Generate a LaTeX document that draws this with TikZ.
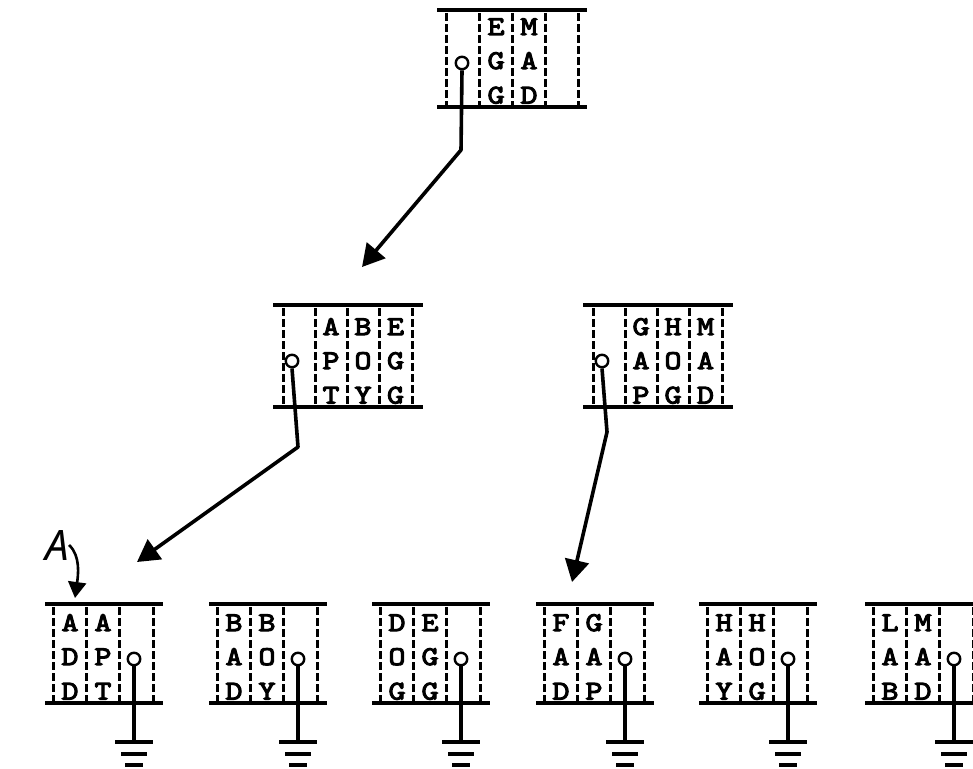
\documentclass[tikz,border=0pt]{standalone}
\usepackage{fontspec}
\newfontfamily\typew{lmmono10-regular.otf}[FakeBold=4,FakeStretch=1.2]
\newfontfamily\handf{Noto Sans}
\usetikzlibrary{arrows.meta}

\tikzset{
  rule/.style={line width=3.2pt},
  sepline/.style={line width=3pt, dash pattern=on 8pt off 3pt},
  ptr/.style={circle, draw, line width=2.4pt, inner sep=0pt, minimum size=12.5pt, fill=white},
  stem/.style={line width=3.2pt},
  link/.style={line width=3.6pt, line join=round, -{Triangle[length=22pt,width=24pt]}},
  tag/.style={line width=2.6pt, -{Triangle[length=16pt,width=18pt]}},
  key/.style={font=\typew\fontsize{27}{27}\selectfont, inner sep=0pt, anchor=base},
  hand/.style={font=\handf\itshape\fontsize{42}{42}\selectfont, inner sep=0pt},
}

% horizontal rules of a block: left x, right x, top y, bottom y
\newcommand\blockrules[4]{%
  \draw[rule] (#1,#3) -- (#2,#3);
  \draw[rule] (#1,#4) -- (#2,#4);}
% dashed separator: x, top y, bottom y
\newcommand\sep[3]{\draw[sepline] (#1,#2+3) -- (#1,#3);}
% column of three keys: name, x, bottom y, three letters
\newcommand\keycol[6]{%
  \node[key] (#1-1) at (#2,#3-72) {#4};
  \node[key] (#1-2) at (#2,#3-38) {#5};
  \node[key] (#1-3) at (#2,#3-3.5) {#6};}
% ground symbol under a stem: x
\newcommand\ground[1]{%
  \draw[rule] (#1-19,742) -- (#1+19,742);
  \draw[rule] (#1-13,754) -- (#1+13,754);
  \draw[rule] (#1-9,765) -- (#1+9,765);}
% leaf block: name, first separator x, six letters
\newcommand\leaf[8]{%
  \blockrules{#2-8}{#2+110}{604}{703}
  \sep{#2}{604}{703}\sep{#2+33}{604}{703}\sep{#2+66}{604}{703}\sep{#2+100}{604}{703}
  \keycol{#1a}{#2+17}{703}{#3}{#4}{#5}
  \keycol{#1b}{#2+50}{703}{#6}{#7}{#8}
  \node[ptr] (#1p) at (#2+81,659) {};
  \coordinate (#1g) at (#2+81,742);
  \draw[stem] (#1p.south) -- (#1g);
  \ground{#2+81}}

\begin{document}
\begin{tikzpicture}[x=1pt,y=-1pt]
\useasboundingbox (0,0) rectangle (973,768);

% root block
\blockrules{437}{587}{10}{107}
\foreach \x in {446,479,512,545,578} {\sep{\x}{10}{107}}
\keycol{rootA}{496}{107}{E}{G}{G}
\keycol{rootB}{529}{107}{M}{A}{D}
\node[ptr] (rootp) at (462,63) {};

% left inner block
\blockrules{273}{423}{305}{407}
\foreach \x in {283,315,347,379,412} {\sep{\x}{305}{407}}
\keycol{midlA}{331}{407}{A}{P}{T}
\keycol{midlB}{363}{407}{B}{O}{Y}
\keycol{midlC}{395.5}{407}{E}{G}{G}
\node[ptr] (midlp) at (292,361) {};

% right inner block
\blockrules{583}{733}{305}{407}
\foreach \x in {593,625,657,689,722} {\sep{\x}{305}{407}}
\keycol{midrA}{641}{407}{G}{A}{P}
\keycol{midrB}{673}{407}{H}{O}{G}
\keycol{midrC}{705.5}{407}{M}{A}{D}
\node[ptr] (midrp) at (602,361) {};

% leaf blocks
\leaf{lfa}{53}{A}{D}{D}{A}{P}{T}
\leaf{lfb}{217}{B}{A}{D}{B}{O}{Y}
\leaf{lfc}{380}{D}{O}{G}{E}{G}{G}
\leaf{lfd}{544}{F}{A}{D}{G}{A}{P}
\leaf{lfe}{707}{H}{A}{Y}{H}{O}{G}
\leaf{lff}{873}{L}{A}{B}{M}{A}{D}

% pointers between levels
\coordinate (rootk) at (461,150);
\coordinate (midlin) at (362,267);
\coordinate (midlk) at (298,447);
\coordinate (lfain) at (137,562);
\coordinate (midrk) at (607,432);
\coordinate (lfdin) at (572,582);
\draw[link] (rootp.south) -- (rootk) -- (midlin);
\draw[link] (midlp.south) -- (midlk) -- (lfain);
\draw[link] (midrp.south) -- (midrk) -- (lfdin);

% handwritten marker
\node[hand] (mark) at (57,545) {A};
\coordinate (markin) at (75,598);
\draw[tag] (mark.east) .. controls (81,556) and (78,576) .. (markin);
\end{tikzpicture}
\end{document}
